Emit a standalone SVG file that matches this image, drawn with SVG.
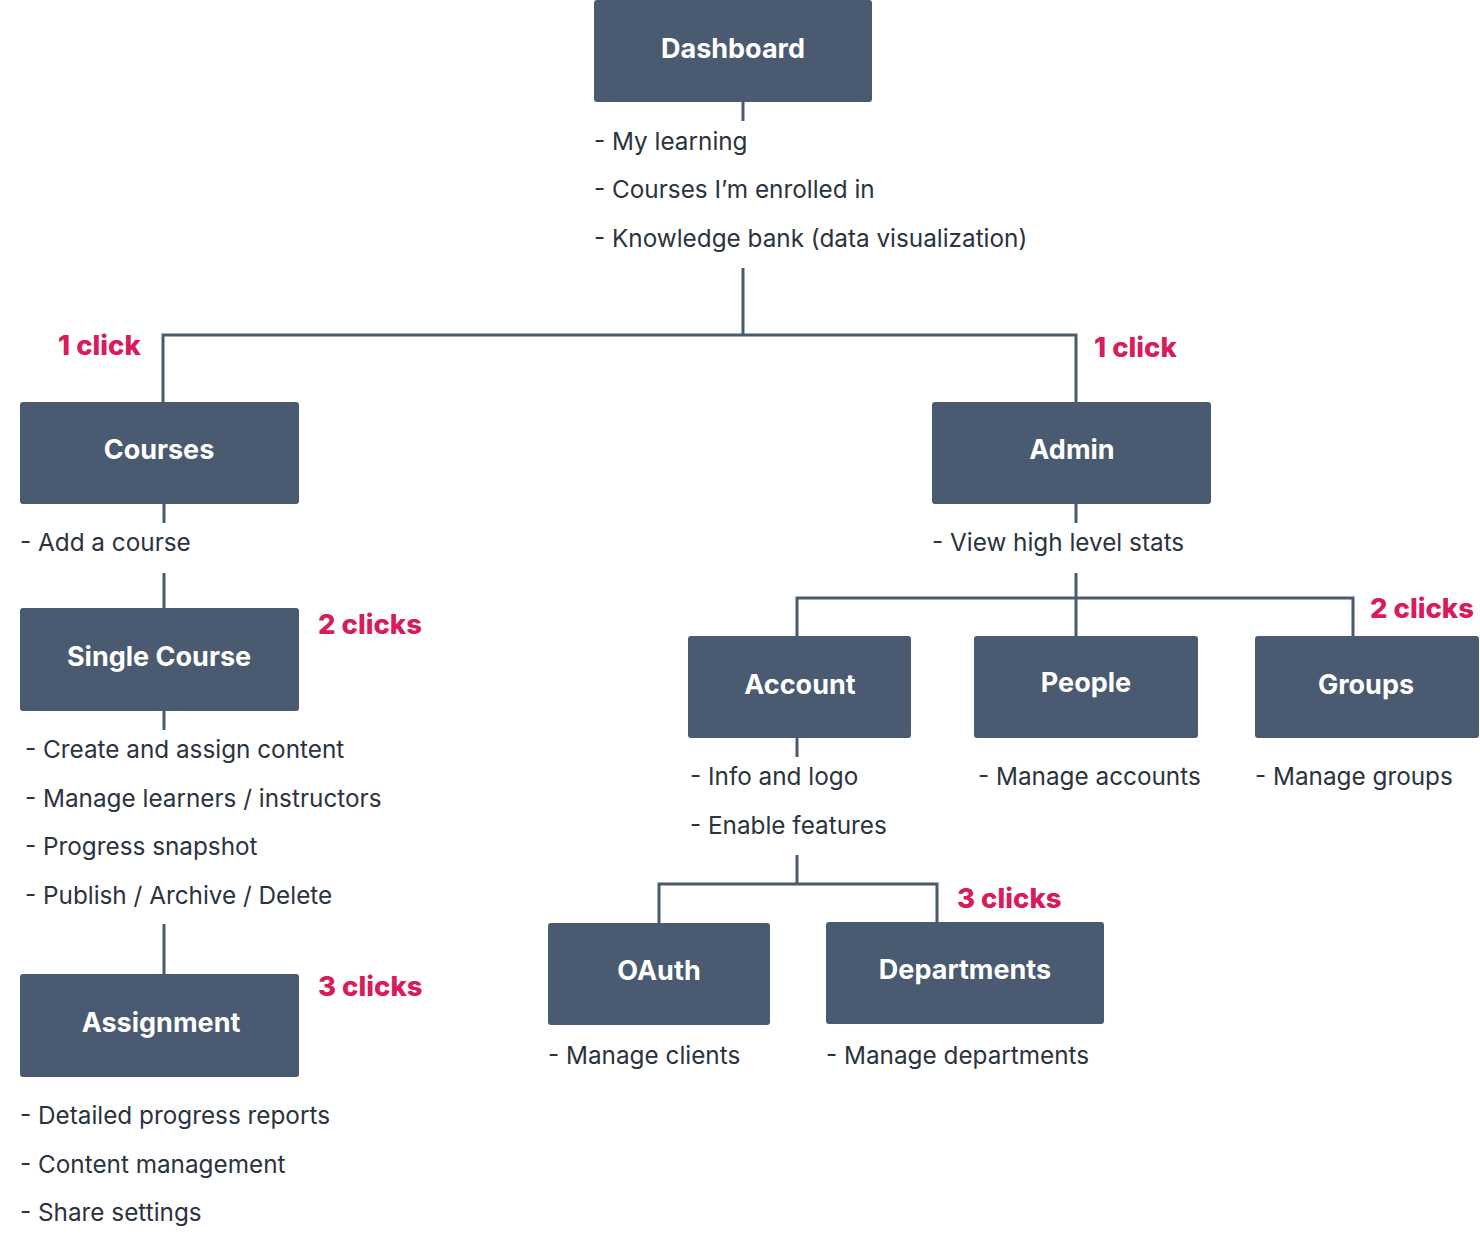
<svg xmlns="http://www.w3.org/2000/svg" width="1480" height="1241" viewBox="0 0 1480 1241">
<style>
.box{fill:#4a5a70;}
.lbl{font-family:"Inter","Liberation Sans",sans-serif;font-weight:700;font-size:27px;fill:#ffffff;text-anchor:middle;}
.item{font-family:"Inter","Liberation Sans",sans-serif;font-size:24.3px;fill:#2b3340;}
.clk{font-family:"Inter","Liberation Sans",sans-serif;font-weight:800;font-size:27.5px;fill:#d81b5a;}
.con{fill:none;stroke:#4a5a70;stroke-width:3;}
</style>
<rect width="1480" height="1241" fill="#ffffff"/>
<g id="connectors">
<path class="con" d="M743 102V121"/>
<path class="con" d="M743 268V335M163 402V335H1076V402"/>
<path class="con" d="M164 504V523M164 573V608M164 711V730M164 924V974"/>
<path class="con" d="M1076 504V523M1076 573V636M797 636V598H1353V636"/>
<path class="con" d="M797 738V757M797 855V884M659 923V884H937V922"/>
</g>
<g id="dashboard">
<rect class="box" x="594" y="0" width="278" height="102" rx="3"/>
<text class="lbl" x="733" y="58">Dashboard</text>
<text class="item" x="594" y="150">- My learning</text>
<text class="item" x="594" y="198">- Courses I’m enrolled in</text>
<text class="item" x="594" y="247">- Knowledge bank (data visualization)</text>
</g>
<g id="courses">
<text class="clk" x="58" y="355">1 click</text>
<rect class="box" x="20" y="402" width="279" height="102" rx="3"/>
<text class="lbl" x="159" y="459">Courses</text>
<text class="item" x="20" y="551">- Add a course</text>
</g>
<g id="single-course">
<rect class="box" x="20" y="608" width="279" height="103" rx="3"/>
<text class="lbl" x="159" y="666">Single Course</text>
<text class="clk" x="318" y="634">2 clicks</text>
<text class="item" x="25" y="758">- Create and assign content</text>
<text class="item" x="25" y="807">- Manage learners / instructors</text>
<text class="item" x="25" y="855">- Progress snapshot</text>
<text class="item" x="25" y="904">- Publish / Archive / Delete</text>
</g>
<g id="assignment">
<rect class="box" x="20" y="974" width="279" height="103" rx="3"/>
<text class="lbl" x="161" y="1032">Assignment</text>
<text class="clk" x="318" y="996">3 clicks</text>
<text class="item" x="20" y="1124">- Detailed progress reports</text>
<text class="item" x="20" y="1173">- Content management</text>
<text class="item" x="20" y="1221">- Share settings</text>
</g>
<g id="admin">
<text class="clk" x="1094" y="357">1 click</text>
<rect class="box" x="932" y="402" width="279" height="102" rx="3"/>
<text class="lbl" x="1072" y="459">Admin</text>
<text class="item" x="932" y="551">- View high level stats</text>
</g>
<g id="account">
<rect class="box" x="688" y="636" width="223" height="102" rx="3"/>
<text class="lbl" x="800" y="694">Account</text>
<text class="item" x="690" y="785">- Info and logo</text>
<text class="item" x="690" y="834">- Enable features</text>
</g>
<g id="people">
<rect class="box" x="974" y="636" width="224" height="102" rx="3"/>
<text class="lbl" x="1086" y="692">People</text>
<text class="item" x="978" y="785">- Manage accounts</text>
</g>
<g id="groups">
<text class="clk" x="1370" y="618">2 clicks</text>
<rect class="box" x="1255" y="636" width="224" height="102" rx="3"/>
<text class="lbl" x="1366" y="694">Groups</text>
<text class="item" x="1255" y="785">- Manage groups</text>
</g>
<g id="oauth">
<rect class="box" x="548" y="923" width="222" height="102" rx="3"/>
<text class="lbl" x="659" y="980">OAuth</text>
<text class="item" x="548" y="1064">- Manage clients</text>
</g>
<g id="departments">
<text class="clk" x="957" y="908">3 clicks</text>
<rect class="box" x="826" y="922" width="278" height="102" rx="3"/>
<text class="lbl" x="965" y="979">Departments</text>
<text class="item" x="826" y="1064">- Manage departments</text>
</g>
</svg>
